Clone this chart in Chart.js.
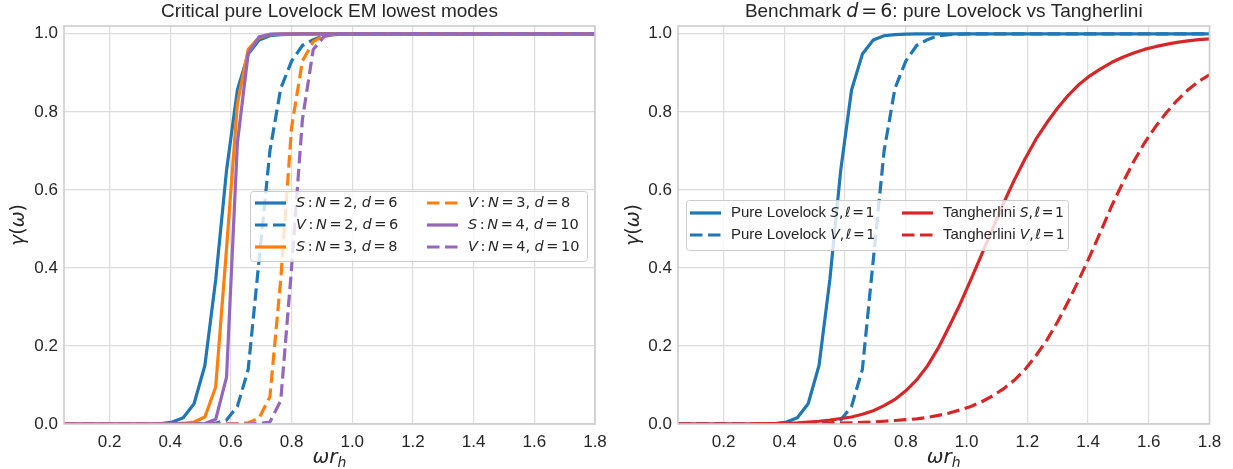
<!DOCTYPE html>
<html><head><meta charset="utf-8">
<script src="https://cdn.jsdelivr.net/npm/chart.js@4.4.1/dist/chart.umd.min.js"></script>
<style>
html,body{margin:0;padding:0;background:#fff;width:1233px;height:469px;overflow:hidden}
#c1{position:absolute;left:0;top:0}
#c2{position:absolute;left:616px;top:0}
</style></head><body>
<canvas id="c1" width="616" height="469"></canvas>
<canvas id="c2" width="617" height="469"></canvas>
<script>
// ---------- data ----------
const omega = [0.05,0.0857,0.1214,0.1571,0.1929,0.2286,0.2643,0.3,0.3357,0.3714,0.4071,0.4429,0.4786,0.5143,0.55,0.5857,0.6214,0.6571,0.6929,0.7286,0.7643,0.8,0.8357,0.8714,0.9071,0.9429,0.9786,1.0143,1.05,1.0857,1.1214,1.1571,1.1929,1.2286,1.2643,1.3,1.3357,1.3714,1.4071,1.4429,1.4786,1.5143,1.55,1.5857,1.6214,1.6571,1.6929,1.7286,1.7643,1.8];
const xTicks = [0.2,0.4,0.6,0.8,1.0,1.2,1.4,1.6,1.8];
const yTicks = [0.0,0.2,0.4,0.6,0.8,1.0];

const S_N2_d6 = [0,0,0,0,0,0,0,0,0,0.001,0.005,0.016,0.052,0.15,0.37,0.65,0.856,0.948,0.984,0.995,0.998,0.999,1,1,1,1,1,1,1,1,1,1,1,1,1,1,1,1,1,1,1,1,1,1,1,1,1,1,1,1];
const V_N2_d6 = [0,0,0,0,0,0,0,0,0,0,0,0,0,0,0.002,0.01,0.045,0.14,0.42,0.70,0.86,0.93,0.97,0.985,0.995,0.998,0.999,1,1,1,1,1,1,1,1,1,1,1,1,1,1,1,1,1,1,1,1,1,1,1];
const S_N3_d8 = [0,0,0,0,0,0,0,0,0,0,0,0.002,0.005,0.018,0.095,0.45,0.82,0.96,0.99,0.998,0.999,1,1,1,1,1,1,1,1,1,1,1,1,1,1,1,1,1,1,1,1,1,1,1,1,1,1,1,1,1];
const V_N3_d8 = [0,0,0,0,0,0,0,0,0,0,0,0,0,0,0,0,0.001,0.003,0.015,0.07,0.37,0.76,0.93,0.98,0.995,0.999,1,1,1,1,1,1,1,1,1,1,1,1,1,1,1,1,1,1,1,1,1,1,1,1];
const S_N4_d10 = [0,0,0,0,0,0,0,0,0,0,0,0,0,0.001,0.012,0.12,0.72,0.95,0.992,0.999,1,1,1,1,1,1,1,1,1,1,1,1,1,1,1,1,1,1,1,1,1,1,1,1,1,1,1,1,1,1];
const V_N4_d10 = [0,0,0,0,0,0,0,0,0,0,0,0,0,0,0,0,0,0,0.001,0.005,0.06,0.40,0.78,0.96,0.993,0.999,1,1,1,1,1,1,1,1,1,1,1,1,1,1,1,1,1,1,1,1,1,1,1,1];
const Tang_S = [0,0,0,0,0,0,0,0,0.001,0.001,0.002,0.003,0.005,0.007,0.01,0.014,0.018,0.025,0.034,0.047,0.063,0.085,0.113,0.149,0.195,0.25,0.307,0.37,0.435,0.5,0.565,0.625,0.68,0.73,0.772,0.81,0.843,0.871,0.893,0.911,0.927,0.94,0.951,0.96,0.967,0.973,0.978,0.982,0.985,0.987];
const Tang_V = [0,0,0,0,0,0,0,0,0,0,0,0,0,0,0.001,0.002,0.003,0.004,0.005,0.007,0.009,0.011,0.013,0.017,0.022,0.028,0.036,0.045,0.057,0.072,0.09,0.112,0.14,0.175,0.215,0.262,0.315,0.372,0.432,0.495,0.56,0.618,0.672,0.72,0.761,0.797,0.829,0.856,0.878,0.895];

// ---------- styling ----------
const BLUE='#1f77b4', ORANGE='#ff7f0e', PURPLE='#9467bd', RED='#d62728';
const TXT='#262626', GRID='#dcdcdc', EDGE='#cccccc';
const SANS='"Liberation Sans", Arial, sans-serif';
const MATH='"DejaVu Sans", sans-serif';
const DASH=[12.5,5.5];
const IT = s => [s, 'italic', MATH];
const UP = s => [s, 'normal', MATH];
const TX = s => [s, 'normal', SANS];

function pts(ys){ return omega.map((x,i)=>({x:x, y:ys[i]})); }

// segments: [text, style, family] or a number = horizontal gap in px
function drawSegs(ctx, segs, x, y, size, align, mathSize){
  const ms = mathSize || size;
  const fontOf = s => s[1]+' '+(s[2]===MATH?ms:size)+'px '+s[2];
  let w=0;
  const wd = segs.map(s=>{ if(typeof s==='number'){ w+=s; return s; } ctx.font=fontOf(s); const m=ctx.measureText(s[0]).width; w+=m; return m; });
  let cx = align==='center' ? x - w/2 : x;
  ctx.textBaseline='middle'; ctx.textAlign='left'; ctx.fillStyle=TXT;
  segs.forEach((s,i)=>{ if(typeof s!=='number'){ ctx.font=fontOf(s); ctx.fillText(s[0], cx, y); } cx+=wd[i]; });
}

function roundRect(ctx,x,y,w,h,r){
  ctx.beginPath();
  ctx.moveTo(x+r,y); ctx.lineTo(x+w-r,y); ctx.quadraticCurveTo(x+w,y,x+w,y+r);
  ctx.lineTo(x+w,y+h-r); ctx.quadraticCurveTo(x+w,y+h,x+w-r,y+h);
  ctx.lineTo(x+r,y+h); ctx.quadraticCurveTo(x,y+h,x,y+h-r);
  ctx.lineTo(x,y+r); ctx.quadraticCurveTo(x,y,x+r,y); ctx.closePath();
}

function decorPlugin(cfg){
  return {
    id:'decor',
    afterDraw(chart){
      const ctx=chart.ctx, a=chart.chartArea;
      ctx.save();
      // frame
      ctx.strokeStyle=EDGE; ctx.lineWidth=1.6;
      ctx.strokeRect(a.left, a.top, a.right-a.left, a.bottom-a.top);
      // title
      drawSegs(ctx, cfg.title, (a.left+a.right)/2, 12, 19, 'center', 19);
      // x label: omega r_h
      ctx.font='italic 20px '+MATH;
      const w1=ctx.measureText('ωr').width;
      ctx.font='italic 14px '+MATH;
      const w2=ctx.measureText('h').width;
      const cx=(a.left+a.right)/2 - (w1+w2)/2;
      ctx.fillStyle=TXT; ctx.textBaseline='alphabetic'; ctx.textAlign='left';
      ctx.font='italic 20px '+MATH; ctx.fillText('ωr', cx, 463);
      ctx.font='italic 14px '+MATH; ctx.fillText('h', cx+w1, 467);
      // y label
      ctx.save();
      ctx.translate(cfg.ylabelX, (a.top+a.bottom)/2);
      ctx.rotate(-Math.PI/2);
      drawSegs(ctx, [IT('γ'),UP('('),IT('ω'),UP(')')], 0, 0, 19, 'center', 19);
      ctx.restore();
      // legend
      const L=cfg.legend;
      roundRect(ctx, L.x, L.y, L.w, L.h, 3);
      ctx.fillStyle='rgba(255,255,255,0.8)'; ctx.fill();
      ctx.strokeStyle=EDGE; ctx.lineWidth=1; ctx.stroke();
      L.items.forEach(it=>{
        const ds=chart.data.datasets[it.ds];
        ctx.beginPath();
        ctx.strokeStyle=ds.borderColor; ctx.lineWidth=3.2;
        ctx.setLineDash(ds.borderDash||[]);
        ctx.lineCap='butt';
        ctx.moveTo(it.hx, it.y); ctx.lineTo(it.hx+L.hw, it.y); ctx.stroke();
        ctx.setLineDash([]);
        drawSegs(ctx, it.label, it.hx+L.hw+L.gap, it.y, L.fs, 'left', L.ms);
      });
      ctx.restore();
    }
  };
}

function makeOptions(yw, padRight){
  const tickFont={family:SANS, size:17};
  return {
    responsive:false, animation:false, devicePixelRatio:1,
    layout:{padding:{top:26,right:padRight,left:0,bottom:0}},
    plugins:{legend:{display:false}, title:{display:false}, tooltip:{enabled:false}},
    elements:{point:{radius:0}, line:{tension:0, borderWidth:3.2, borderJoinStyle:'round'}},
    scales:{
      x:{type:'linear', min:0.05, max:1.8,
        afterBuildTicks:s=>{ s.ticks = xTicks.map(v=>({value:v})); },
        afterFit:s=>{ s.height=45; },
        grid:{color:GRID, lineWidth:1.2, drawTicks:false},
        border:{display:false},
        ticks:{padding:8, maxRotation:0, autoSkip:false, color:TXT, font:tickFont, callback:v=>v.toFixed(1)}},
      y:{type:'linear', min:0, max:1.02,
        afterBuildTicks:s=>{ s.ticks = yTicks.map(v=>({value:v})); },
        afterFit:s=>{ s.width=yw; },
        grid:{color:GRID, lineWidth:1.2, drawTicks:false},
        border:{display:false},
        ticks:{padding:6, color:TXT, font:tickFont, callback:v=>v.toFixed(1)}}
    }
  };
}

function ds(data, color, dashed, idx, n){
  return {data:pts(data), borderColor:color, borderWidth:3.2, borderDash: dashed?DASH:[], borderCapStyle: dashed?'butt':'square', fill:false, order:n-idx};
}

// ---------- left chart ----------
const leftSets = [
  ds(S_N2_d6, BLUE, false, 0, 6), ds(V_N2_d6, BLUE, true, 1, 6),
  ds(S_N3_d8, ORANGE, false, 2, 6), ds(V_N3_d8, ORANGE, true, 3, 6),
  ds(S_N4_d10, PURPLE, false, 4, 6), ds(V_N4_d10, PURPLE, true, 5, 6)
];
const g=2.6;
const lab = (t,n,d) => [IT(t),g,UP(':'),g,IT('N'),g,UP('='),g,UP(n+','),4.5,IT('d'),g,UP('='),g,UP(String(d))];
new Chart(document.getElementById('c1'), {
  type:'line',
  data:{datasets:leftSets},
  options:makeOptions(64, 21),
  plugins:[decorPlugin({
    title:[TX('Critical pure Lovelock EM lowest modes')],
    ylabelX:19,
    legend:{x:250.5, y:191.5, w:337, h:70, hw:31, gap:10, fs:14.5, ms:14.5, items:[
      {ds:0, hx:255, y:203, label:lab('S',2,6)},
      {ds:1, hx:255, y:225, label:lab('V',2,6)},
      {ds:2, hx:255, y:247, label:lab('S',3,8)},
      {ds:3, hx:427, y:203, label:lab('V',3,8)},
      {ds:4, hx:427, y:225, label:lab('S',4,10)},
      {ds:5, hx:427, y:247, label:lab('V',4,10)}
    ]}
  })]
});

// ---------- right chart ----------
const rightSets = [
  ds(S_N2_d6, BLUE, false, 0, 4), ds(V_N2_d6, BLUE, true, 1, 4),
  ds(Tang_S, RED, false, 2, 4), ds(Tang_V, RED, true, 3, 4)
];
const lab2 = (pre,t) => [TX(pre+' '),IT(t),UP(','),1.5,IT('ℓ'),1.5,UP('='),1.5,UP('1')];
new Chart(document.getElementById('c2'), {
  type:'line',
  data:{datasets:rightSets},
  options:makeOptions(62, 23.5),
  plugins:[decorPlugin({
    title:[TX('Benchmark '),IT('d'),3,UP('='),3,UP('6'),TX(': pure Lovelock vs Tangherlini')],
    ylabelX:18,
    legend:{x:70.5, y:200.5, w:382, h:50, hw:31, gap:10, fs:15, ms:14, items:[
      {ds:0, hx:74, y:213, label:lab2('Pure Lovelock','S')},
      {ds:1, hx:74, y:235, label:lab2('Pure Lovelock','V')},
      {ds:2, hx:286, y:213, label:lab2('Tangherlini','S')},
      {ds:3, hx:286, y:235, label:lab2('Tangherlini','V')}
    ]}
  })]
});
</script>
</body></html>
